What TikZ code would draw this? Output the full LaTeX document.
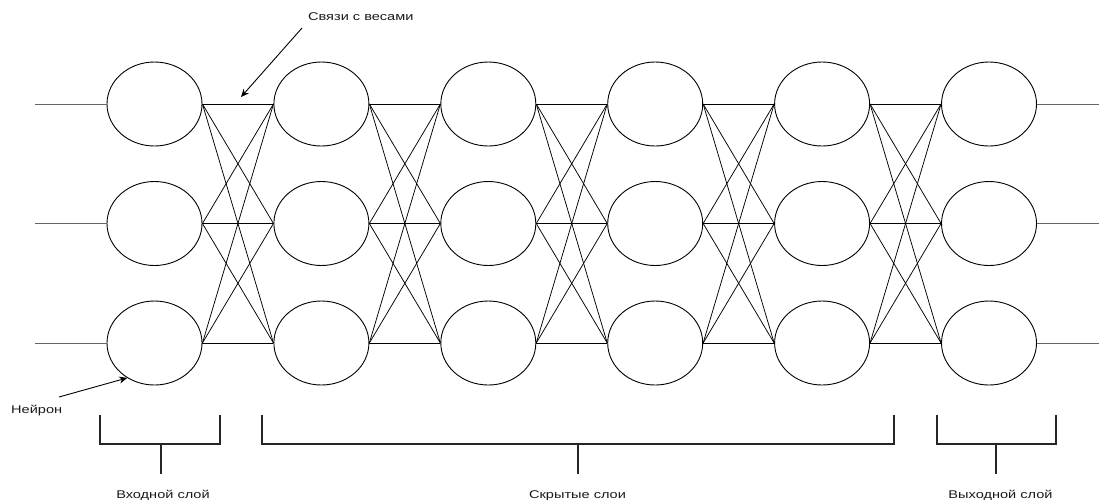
\documentclass[tikz,border=0pt]{standalone}
\usepackage{fontspec}
\setmainfont{Liberation Sans}
\newfontfamily\lblfont[FakeStretch=1.3]{Liberation Sans}
\usetikzlibrary{shapes.geometric,arrows.meta}
\begin{document}
\begin{tikzpicture}[x=1pt,y=-1pt,
  neuron/.style={draw,ellipse,minimum width=95pt,minimum height=84pt,inner sep=0pt,line width=0.9pt},
  link/.style={line width=0.75pt},
  io/.style={line width=0.9pt,draw=black!60},
  brack/.style={line width=1.7pt,draw=black!85},
  lbl/.style={font=\lblfont\fontsize{11.2}{13}\selectfont,text=black!90,inner sep=0pt,anchor=base},
  pointer/.style={line width=0.9pt,-{Stealth[length=8pt,width=7pt]}}]
\useasboundingbox (0,0) rectangle (1099,499);
\foreach \c/\x in {1/154.5,2/321.4,3/488.3,4/655.2,5/822.1,6/989}{
  \foreach \r/\y in {1/104,2/223.5,3/343}{
    \node[neuron] (n\c\r) at (\x,\y) {};
  }
}
\foreach \c [evaluate=\c as \d using int(\c+1)] in {1,...,5}{
  \foreach \r in {1,2,3}{
    \foreach \s in {1,2,3}{
      \draw[link] (n\c\r.east) -- (n\d\s.west);
    }
  }
}
\foreach \r/\y in {1/104,2/223.5,3/343}{
  \coordinate (in\r) at (35,\y);
  \coordinate (out\r) at (1099,\y);
  \draw[io] (in\r) -- (n1\r.west);
  \draw[io] (n6\r.east) -- (out\r);
}
% brackets
\coordinate (b1a) at (100,415); \coordinate (b1b) at (220,415);
\coordinate (b2a) at (262,415); \coordinate (b2b) at (894,415);
\coordinate (b3a) at (937,415); \coordinate (b3b) at (1056,415);
\draw[brack] (b1a) -- ++(0,29) -| (b1b);
\draw[brack] (b2a) -- ++(0,29) -| (b2b);
\draw[brack] (b3a) -- ++(0,29) -| (b3b);
\coordinate (s1) at (161,444); \coordinate (s2) at (578,444); \coordinate (s3) at (996,444);
\draw[brack] (s1) -- ++(0,30);
\draw[brack] (s2) -- ++(0,30);
\draw[brack] (s3) -- ++(0,30);
\node[lbl] (l1) at (163,498.3) {Входной слой};
\node[lbl] (l2) at (577.5,498.3) {Скрытые слои};
\node[lbl] (l3) at (1000.5,498.3) {Выходной слой};
% annotations
\node[lbl,anchor=base west] (neu) at (11,413) {Нейрон};
\coordinate (neuA) at (59,397);
\draw[pointer] (neuA) -- (n13.-128);
\node[lbl] (wts) at (360.8,20.7) {Связи с весами};
\coordinate (wA) at (302,28);
\coordinate (wB) at (241,97);
\draw[pointer] (wA) -- (wB);
\end{tikzpicture}
\end{document}
